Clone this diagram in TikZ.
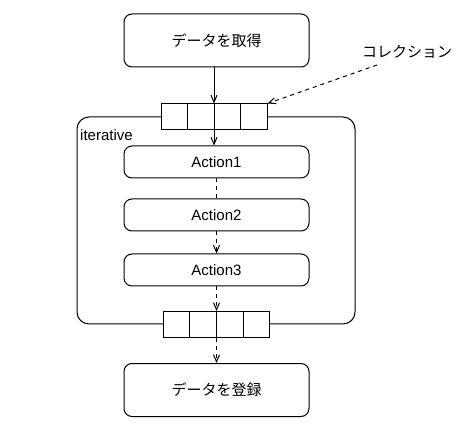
\documentclass[tikz,border=0pt]{standalone}
\usepackage{fontspec}
\setmainfont{Liberation Sans}
\newfontfamily\jpfont{Noto Sans CJK JP}
\usepackage{tikz}
\usetikzlibrary{arrows.meta, positioning, calc}
\definecolor{cLine}{RGB}{0,0,0}
\tikzset{
  %% process boxes
  procbox/.style={rectangle, rounded corners=8pt, draw=cLine, fill=white,
                  line width=1pt, minimum width=185pt, font=\fontsize{15}{17}\selectfont,
                  inner sep=0pt},
  procbig/.style={procbox, minimum height=53pt},
  procact/.style={procbox, minimum height=32pt},
  %% loop frame
  loopframe/.style={rectangle, rounded corners=12pt, draw=cLine, line width=1pt,
                    minimum width=278pt, minimum height=207pt},
  %% collection strip
  colbox/.style={rectangle, draw=cLine, fill=white, line width=1pt,
                 minimum width=106pt, minimum height=26pt, inner sep=0pt},
  %% arrows
  flowarrow/.style={-{Straight Barb[length=7pt, width=6pt]}, line width=1pt, draw=cLine},
  flowdash/.style={line width=1pt, draw=cLine, dash pattern=on 4pt off 4pt},
  flowdasharrow/.style={flowdash, -{Straight Barb[length=7pt, width=6pt]}},
  note/.style={font=\fontsize{15}{17}\selectfont, inner sep=0pt},
}
\begin{document}
\begin{tikzpicture}[x=1pt, y=-1pt]
\useasboundingbox (0,0) rectangle (474,430);

%% ============================================================
%%  LOOP FRAME
%% ============================================================
\node[loopframe] (loop) at (216,220.5) {};
\node[note, anchor=base west] (looplbl) at (80,140.5) {iterative};

%% ============================================================
%%  PROCESS BOXES
%% ============================================================
\node[procbig] (get) at (216.5,40.5) {\jpfont データを取得};
\node[procact] (act1) at (216.5,162) {Action1};
\node[procact] (act2) at (216.5,215) {Action2};
\node[procact] (act3) at (216.5,270) {Action3};
\node[procbig] (put) at (216.5,390) {\jpfont データを登録};

%% ============================================================
%%  COLLECTIONS (4 cells each)
%% ============================================================
\node[colbox] (colA) at (214,117) {};
\node[colbox] (colB) at (216.5,324.5) {};
\foreach \cc in {colA, colB} {
  \foreach \k in {1,2,3} {
    \draw[line width=1pt]
      ($(\cc.north west)!\k/4!(\cc.north east)$) --
      ($(\cc.south west)!\k/4!(\cc.south east)$);
  }
}

%% collection label
\node[note] (collbl) at (407,52) {\jpfont コレクション};
\coordinate (lbltail) at (377,65);

%% ============================================================
%%  CONNECTORS
%% ============================================================
\draw[flowarrow] (get.south -| colA.north) -- (colA.north);
\draw[flowarrow] (colA.south) -- (colA.south |- act1.north);
\draw[flowdash] (act1.south) -- (act2.north);
\draw[flowdasharrow] (act2.south) -- (act3.north);
\draw[flowdasharrow] (act3.south) -- (colB.north);
\draw[flowdasharrow] (colB.south) -- (put.north);
\draw[flowdasharrow] (lbltail) -- (colA.north east);

\end{tikzpicture}
\end{document}
